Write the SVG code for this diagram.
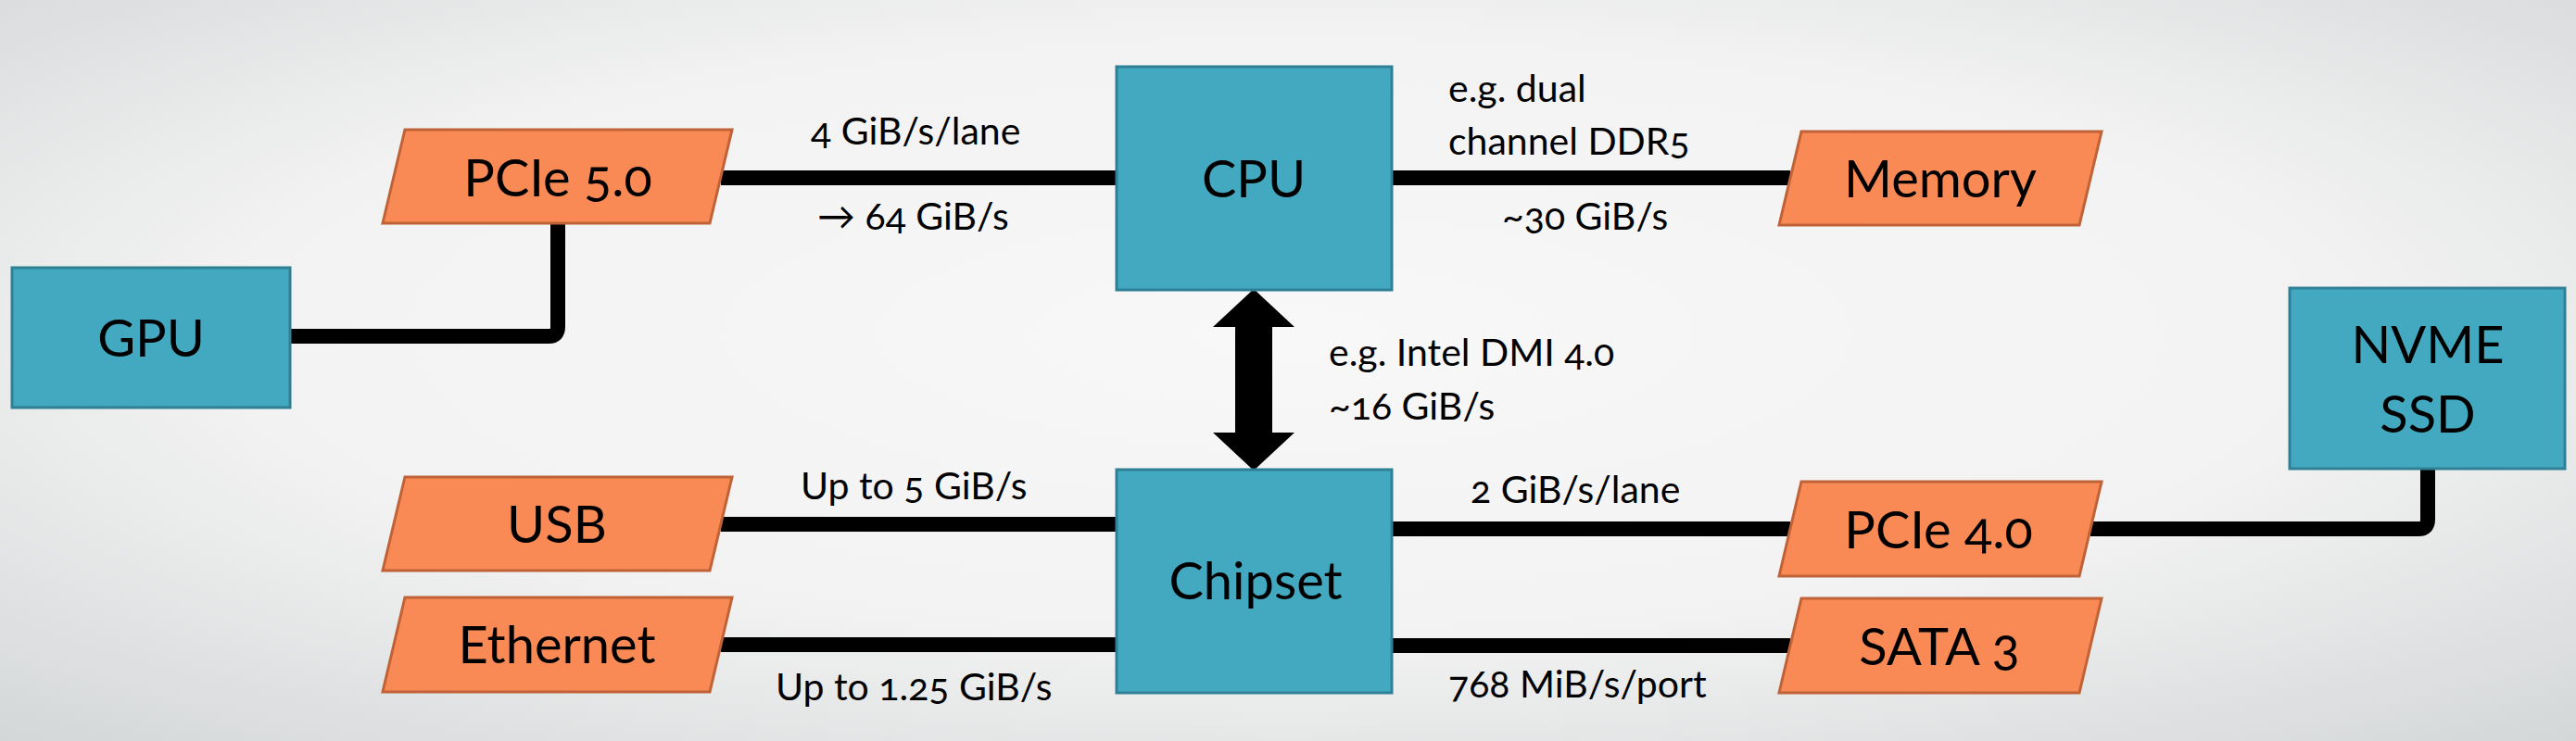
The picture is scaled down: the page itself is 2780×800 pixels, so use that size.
<svg xmlns="http://www.w3.org/2000/svg" width="2780" height="800" viewBox="0 0 2780 800">
<defs>
<radialGradient id="bg" cx="0.5" cy="0.45" r="0.75">
<stop offset="0" stop-color="#f8f8f8"/>
<stop offset="0.55" stop-color="#f2f2f2"/>
<stop offset="1" stop-color="#d3d6d7"/>
</radialGradient>
<style>
.box{fill:#43a9c1;stroke:#2f8095;stroke-width:3}
.para{fill:#f98a55;stroke:#c06237;stroke-width:3}
.lbl{font-family:Lato,"Open Sans",sans-serif;font-size:56px;fill:#000;text-anchor:middle;font-variant-numeric:oldstyle-nums}
.elbl{font-family:Lato,"Open Sans",sans-serif;font-size:41px;fill:#000;font-variant-numeric:oldstyle-nums}
.wire{fill:none;stroke:#000;stroke-width:16;stroke-linejoin:round}
</style>
</defs>
<rect x="0" y="0" width="2780" height="800" fill="url(#bg)"/>
<g id="connectors">
<path class="wire" d="M778 192 H1205"/>
<path class="wire" d="M602 241 V353 Q602 363 592 363 H313"/>
<path class="wire" d="M1502 192 H1932"/>
<path class="wire" d="M778 566 H1205"/>
<path class="wire" d="M778 696 H1205"/>
<path class="wire" d="M1502 571 H1932"/>
<path class="wire" d="M2256 571 H2610 Q2620 571 2620 561 V506"/>
<path class="wire" d="M1502 697 H1932"/>
<polygon id="dmi-arrow" points="1353,312 1397,353 1373,353 1373,467 1397,467 1353,508 1309,467 1333,467 1333,353 1309,353" fill="#000"/>
</g>
<g id="edge-labels">
<text class="elbl" x="875" y="156">4 GiB/s/lane</text>
<text class="elbl" x="882" y="248">→ 64 GiB/s</text>
<text class="elbl" x="1563" y="110">e.g. dual</text>
<text class="elbl" x="1563" y="167">channel DDR5</text>
<text class="elbl" x="1621" y="248">~30 GiB/s</text>
<text class="elbl" x="1434" y="395">e.g. Intel DMI 4.0</text>
<text class="elbl" x="1434" y="453">~16 GiB/s</text>
<text class="elbl" x="864" y="539">Up to 5 GiB/s</text>
<text class="elbl" x="837" y="756">Up to 1.25 GiB/s</text>
<text class="elbl" x="1587" y="543">2 GiB/s/lane</text>
<text class="elbl" x="1563" y="753">768 MiB/s/port</text>
</g>
<g id="gpu">
<rect class="box" x="13" y="289" width="300" height="151"/>
<text class="lbl" x="163" y="385">GPU</text>
</g>
<g id="cpu">
<rect class="box" x="1205" y="72" width="297" height="241"/>
<text class="lbl" x="1353" y="213">CPU</text>
</g>
<g id="chipset">
<rect class="box" x="1205" y="507" width="297" height="241"/>
<text class="lbl" x="1355" y="647">Chipset</text>
</g>
<g id="nvme">
<rect class="box" x="2471" y="311" width="297" height="195"/>
<text class="lbl" x="2620" y="392">NVME</text>
<text class="lbl" x="2620" y="467">SSD</text>
</g>
<g id="pcie5">
<polygon class="para" points="437,140 790,140 766,241 413,241"/>
<text class="lbl" x="602" y="212">PCIe 5.0</text>
</g>
<g id="memory">
<polygon class="para" points="1944,142 2268,142 2244,243 1920,243"/>
<text class="lbl" x="2094" y="213">Memory</text>
</g>
<g id="usb">
<polygon class="para" points="437,515 790,515 766,616 413,616"/>
<text class="lbl" x="601" y="586">USB</text>
</g>
<g id="ethernet">
<polygon class="para" points="437,645 790,645 766,747 413,747"/>
<text class="lbl" x="601" y="716">Ethernet</text>
</g>
<g id="pcie4">
<polygon class="para" points="1944,520 2268,520 2244,622 1920,622"/>
<text class="lbl" x="2092" y="592">PCIe 4.0</text>
</g>
<g id="sata">
<polygon class="para" points="1944,646 2268,646 2244,748 1920,748"/>
<text class="lbl" x="2093" y="718">SATA 3</text>
</g>
</svg>
